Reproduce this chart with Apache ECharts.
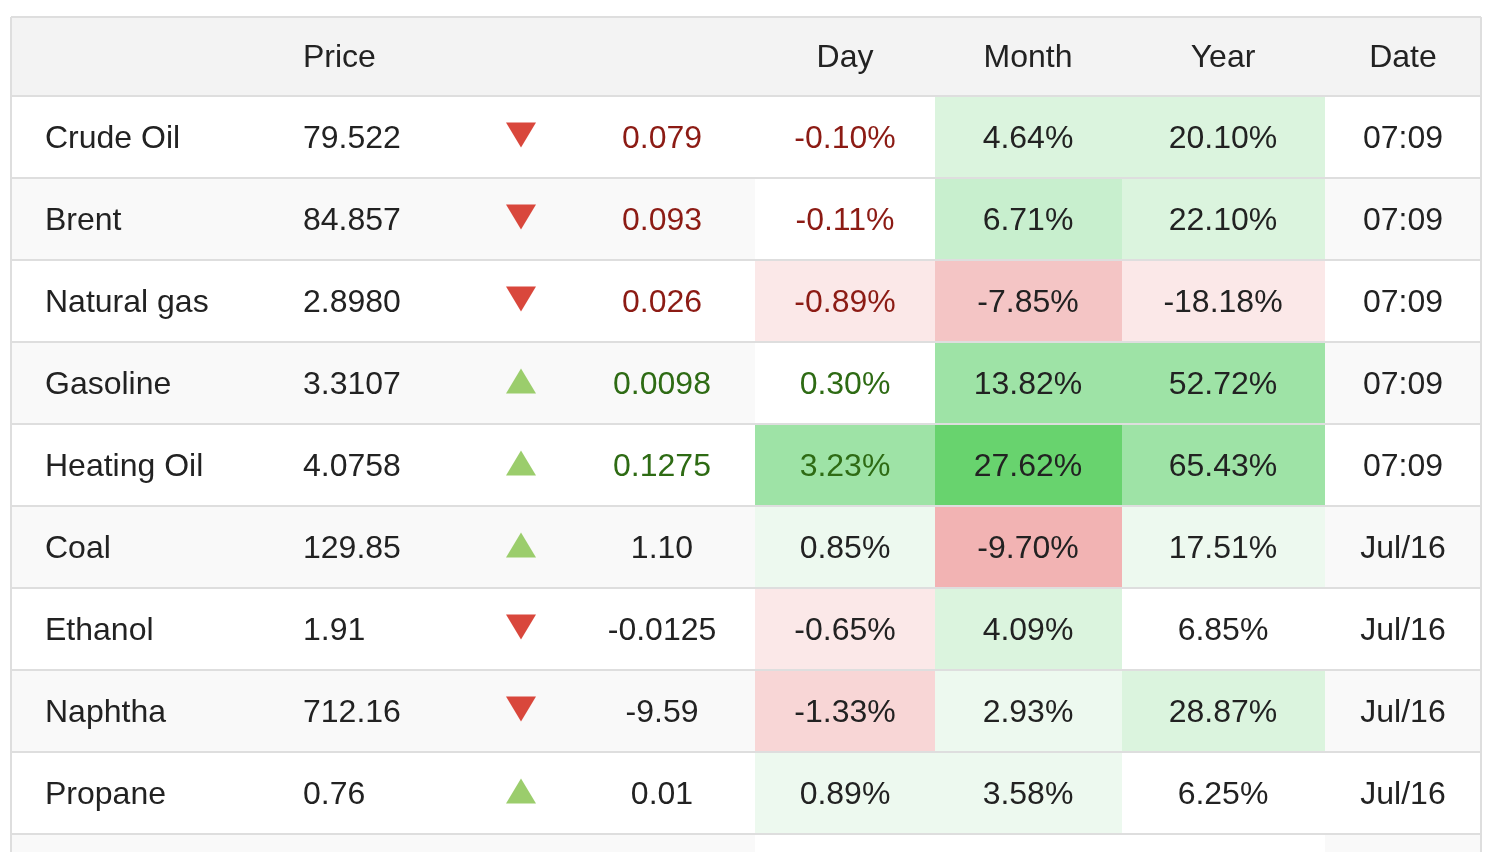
<!DOCTYPE html>
<html>

<head>
    <meta charset="utf-8">
    <title>Energy</title>
    <script src="https://cdn.jsdelivr.net/npm/echarts@6.0.0/dist/echarts.min.js"></script>
    <style>
        html, body { margin: 0; padding: 0; background: #fff; }
        #frame { width: 1496px; height: 852px; overflow: hidden; }
        #main { width: 1496px; height: 940px; }
    </style>
</head>

<body>
    <div id="frame"><div id="main"></div></div>
    <script>
        // table data
        var names = ['Crude Oil', 'Brent', 'Natural gas', 'Gasoline', 'Heating Oil', 'Coal', 'Ethanol', 'Naphtha', 'Propane'];
        var prices = ['79.522', '84.857', '2.8980', '3.3107', '4.0758', '129.85', '1.91', '712.16', '0.76'];
        var changes = ['0.079', '0.093', '0.026', '0.0098', '0.1275', '1.10', '-0.0125', '-9.59', '0.01'];
        var directions = ['down', 'down', 'down', 'up', 'up', 'up', 'down', 'down', 'up'];
        var dayPct = [-0.10, -0.11, -0.89, 0.30, 3.23, 0.85, -0.65, -1.33, 0.89];
        var monthPct = [4.64, 6.71, -7.85, 13.82, 27.62, -9.70, 4.09, 2.93, 3.58];
        var yearPct = [20.10, 22.10, -18.18, 52.72, 65.43, 17.51, 6.85, 28.87, 6.25];
        var dates = ['07:09', '07:09', '07:09', '07:09', '07:09', 'Jul/16', 'Jul/16', 'Jul/16', 'Jul/16'];
        var headers = ['', 'Price', '', '', 'Day', 'Month', 'Year', 'Date'];

        // layout (x axis runs in page pixels)
        var X_MIN = 11, X_MAX = 1481;
        var COLS = [
            { x0: 11, x1: 270, tx: 45, align: 'left' },
            { x0: 270, x1: 488, tx: 303, align: 'left' },
            { x0: 488, x1: 555, tx: 521, align: 'center' },
            { x0: 555, x1: 755, tx: 662, align: 'center' },
            { x0: 755, x1: 935, tx: 845, align: 'center' },
            { x0: 935, x1: 1122, tx: 1028, align: 'center' },
            { x0: 1122, x1: 1325, tx: 1223, align: 'center' },
            { x0: 1325, x1: 1481, tx: 1403, align: 'center' }
        ];
        var GREENS = ['#edf9ef', '#dbf4de', '#c8efce', '#9ee3a6', '#68d36e'];
        var PINKS = ['#fbe8e8', '#f8d6d6', '#f4c5c5', '#f2b3b3', '#ee9a9a'];
        var STEPS = { 4: [0.5, 1, 2, 3, 5], 5: [2, 4, 6, 9, 20], 6: [10, 20, 30, 50, 100] };
        var TXT = '#222222', RED_TXT = '#8c1b14', GREEN_TXT = '#2e6b14';
        var RED_ARROW = '#d9473c', GREEN_ARROW = '#9bcd6c';
        var FONT = '"Liberation Sans", Arial, Helvetica, sans-serif';

        // rows: header + commodities + one cut-off row at the bottom
        var rowKeys = ['header'].concat(names).concat(['']);

        function heat(v, c) {
            if (v == null) return '#ffffff';
            var lv = 0;
            STEPS[c].forEach(function (t) { if (Math.abs(v) >= t) lv++; });
            if (lv === 0) return '#ffffff';
            return v > 0 ? GREENS[lv - 1] : PINKS[lv - 1];
        }

        function fmt(v) { return v == null ? '' : v.toFixed(2) + '%'; }

        function cellInfo(c, r) {
            if (r === 0) return { text: headers[c], bg: '#f3f3f3', color: TXT };
            var i = r - 1;
            var stripe = i % 2 === 1 ? '#f9f9f9' : '#ffffff';
            var live = dates[i] && dates[i].indexOf(':') >= 0;
            var moveColor = live ? (directions[i] === 'up' ? GREEN_TXT : RED_TXT) : TXT;
            switch (c) {
                case 0: return { text: names[i] || '', bg: stripe, color: TXT };
                case 1: return { text: prices[i] || '', bg: stripe, color: TXT };
                case 2: return { text: '', bg: stripe, arrow: directions[i] };
                case 3: return { text: changes[i] || '', bg: stripe, color: moveColor };
                case 4: return { text: fmt(dayPct[i]), bg: heat(dayPct[i], 4), color: moveColor };
                case 5: return { text: fmt(monthPct[i]), bg: heat(monthPct[i], 5), color: TXT };
                case 6: return { text: fmt(yearPct[i]), bg: heat(yearPct[i], 6), color: TXT };
                default: return { text: dates[i] || '', bg: stripe, color: TXT };
            }
        }

        var cellData = [];
        var ruleData = [];
        for (var r = 0; r < rowKeys.length; r++) {
            for (var c = 0; c < COLS.length; c++) cellData.push([c, r]);
            ruleData.push([0, r]);
        }

        function renderCell(params, api) {
            var c = api.value(0), r = api.value(1);
            var col = COLS[c];
            var pt = api.coord([col.x0, r]);
            var left = pt[0], right = api.coord([col.x1, r])[0];
            var h = api.size([0, 1])[1];
            var yc = pt[1];
            var bottom = yc + h / 2, top = yc - h / 2;
            if (r === 0) { top += 3; yc += 1.5; }
            var info = cellInfo(c, r);
            var tx = api.coord([col.tx, r])[0];
            var kids = [{
                type: 'rect',
                shape: { x: left, y: top, width: right - left, height: bottom - top },
                style: { fill: info.bg }
            }];
            if (info.arrow) {
                var ay = yc - 2, w = 15, hh = 12.5;
                var pts = info.arrow === 'down'
                    ? [[tx - w, ay - hh], [tx + w, ay - hh], [tx, ay + hh]]
                    : [[tx - w, ay + hh], [tx + w, ay + hh], [tx, ay - hh]];
                kids.push({
                    type: 'polygon', shape: { points: pts },
                    style: { fill: info.arrow === 'down' ? RED_ARROW : GREEN_ARROW }
                });
            }
            if (info.text) {
                kids.push({
                    type: 'text',
                    style: {
                        text: info.text, x: tx, y: yc + 2,
                        align: col.align, verticalAlign: 'middle',
                        fontSize: 32, fontFamily: FONT, fill: info.color
                    }
                });
            }
            return { type: 'group', children: kids };
        }

        function renderRule(params, api) {
            var r = api.value(1);
            var pt = api.coord([X_MIN, r]);
            var l = pt[0], rt = api.coord([X_MAX, r])[0];
            var h = api.size([0, 1])[1];
            var top = pt[1] - h / 2, bottom = pt[1] + h / 2;
            var stroke = { stroke: '#dedede', lineWidth: 2 };
            var kids = [
                { type: 'line', shape: { x1: l, y1: bottom, x2: rt, y2: bottom }, style: stroke },
                { type: 'line', shape: { x1: l, y1: top, x2: l, y2: bottom }, style: stroke },
                { type: 'line', shape: { x1: rt, y1: top, x2: rt, y2: bottom }, style: stroke }
            ];
            if (r === 0) {
                kids[1].shape.y1 = top + 3;
                kids[2].shape.y1 = top + 3;
                kids.push({ type: 'line', shape: { x1: l, y1: top + 3, x2: rt, y2: top + 3 }, style: stroke });
            }
            return { type: 'group', children: kids };
        }

        var myChart = echarts.init(document.getElementById('main'));
        var option = {
            animation: false,
            backgroundColor: '#ffffff',
            grid: {
                left: X_MIN, right: 1496 - X_MAX, top: 14, height: rowKeys.length * 82,
                outerBoundsMode: 'none'
            },
            xAxis: { type: 'value', min: X_MIN, max: X_MAX, show: false },
            yAxis: { type: 'category', data: rowKeys, inverse: true, show: false },
            series: [
                { type: 'custom', renderItem: renderCell, data: cellData, silent: true, clip: false, z: 2 },
                { type: 'custom', renderItem: renderRule, data: ruleData, silent: true, clip: false, z: 3 }
            ]
        };
        myChart.setOption(option);
    </script>
</body>

</html>
